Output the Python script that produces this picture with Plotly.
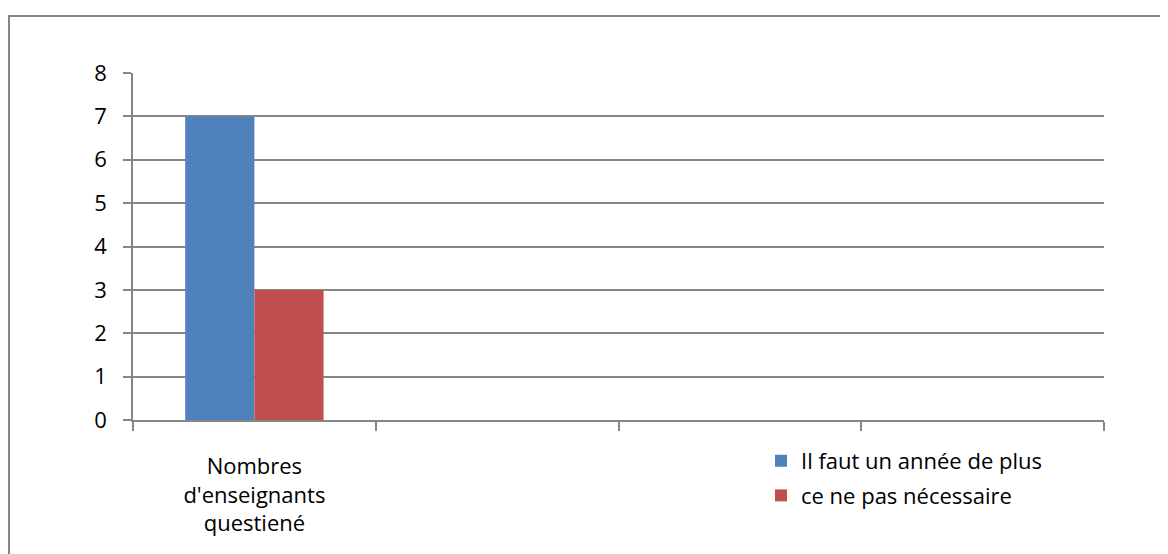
import plotly.graph_objects as go

categories = ["Nombres<br>d'enseignants<br>questiené", " ", "  ", "   "]
series_names = ["Il faut un année de plus", "ce ne pas nécessaire"]
values_oui = [7, None, None, None]
values_non = [3, None, None, None]
colors = ["#4F81BD", "#C0504D"]
y_ticks = [0, 1, 2, 3, 4, 5, 6, 7, 8]

FONT = "Open Sans"
FS = 22
OFF = 8  # browser body margin
fig = go.Figure()
fig.add_trace(go.Bar(x=categories, y=values_oui, name=series_names[0],
                     marker=dict(color=colors[0], line=dict(width=0)), legendgroup="a"))
fig.add_trace(go.Bar(x=categories, y=values_non, name=series_names[1],
                     marker=dict(color=colors[1], line=dict(width=0)), legendgroup="b"))

W, H = 1168 - OFF, 554 - OFF
L, R, T, B = 133 - OFF, 64, 72.5 - OFF, 134
pw, ph = W - L - R, H - T - B
y0px = 420 - OFF  # pixel of y=0 inside figure

fig.update_layout(
    width=W, height=H,
    margin=dict(l=L, r=R, t=T, b=B, pad=0),
    paper_bgcolor="white", plot_bgcolor="white",
    barmode="group", bargap=0.43, bargroupgap=0,
    font=dict(family=FONT, size=FS, color="#000000"),
    showlegend=True,
    legend=dict(x=(761 - OFF - L) / pw, xanchor="left", y=(y0px - (440 - OFF)) / ph, yanchor="top",
                bgcolor="rgba(0,0,0,0)", font=dict(size=FS, family=FONT),
                tracegroupgap=3, itemwidth=30),
    xaxis=dict(type="category", tickson="boundaries", ticks="outside", ticklen=9,
               tickcolor="#868686", tickwidth=1.5,
               showline=True, linecolor="#868686", linewidth=1.5,
               showgrid=False, range=[-0.5, 3.5], fixedrange=True,
               ticklabelstandoff=26,
               tickfont=dict(size=FS, family=FONT)),
    yaxis=dict(range=[0, 8], tickvals=y_ticks, ticks="outside", ticklen=8,
               tickcolor="#868686", tickwidth=1.5,
               showline=True, linecolor="#868686", linewidth=1.5,
               showgrid=True, gridcolor="#868686", gridwidth=1.5,
               zeroline=False, ticklabelstandoff=12,
               tickfont=dict(size=FS, family=FONT)),
)

fig.add_shape(type="rect", xref="paper", yref="paper",
              x0=(1 - L) / pw, x1=(W + 20 - L) / pw,
              y0=(y0px - (H + 20)) / ph, y1=(y0px - (15.5 - OFF)) / ph,
              line=dict(color="#868686", width=2), fillcolor="rgba(0,0,0,0)", layer="below")

fig.write_html("out.html")
